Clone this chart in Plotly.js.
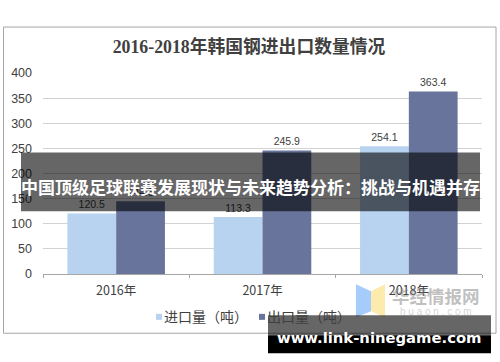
<!DOCTYPE html>
<html><head><meta charset="utf-8">
<script src="https://cdn.plot.ly/plotly-3.0.1.min.js"></script>
<style>html,body{margin:0;padding:0;background:#fff}</style></head>
<body><div id="c" style="width:500px;height:362px"></div>
<script>
var categories=['2016年','2017年','2018年'];
var importValues=[120.5,113.3,254.1];
var exportValues=[144.6,245.9,363.4];
var seriesNames=['进口量（吨）','出口量（吨）'];
var yTicks=[0,50,100,150,200,250,300,350,400];
var W=500,H=362,L=43,R=18,T=72.5,B=88.3;
function px(x){return (x-L)/(W-L-R);}
function py(y){return 1-(y-T)/(H-T-B);}
var cjk='"Noto Sans CJK SC","Liberation Sans",sans-serif';
function mk(name,vals,color){return {type:'bar',name:name,x:categories,y:vals,marker:{color:color},
 text:vals.map(function(v){return v.toFixed(1);}),textposition:'outside',cliponaxis:false,
 textangle:0,textfont:{family:'"Liberation Sans",sans-serif',size:10.5,color:'#404040'},hoverinfo:'x+y'};}
var data=[mk(seriesNames[0],importValues,'#b7d3f0'),mk(seriesNames[1],exportValues,'#68749b')];
function rect(x0,y0,x1,y1,fill,line,layer){return {type:'rect',xref:'paper',yref:'paper',x0:px(x0),x1:px(x1),y0:py(y0),y1:py(y1),
 fillcolor:fill,line:line||{width:0},layer:layer||'above'};}
function poly(pts,fill){return {type:'path',xref:'paper',yref:'paper',
 path:'M'+pts.map(function(p){return px(p[0])+','+py(p[1]);}).join('L')+'Z',fillcolor:fill,line:{width:0},layer:'above'};}
function note(text,x,y,size,color,bold,family){return {text:bold?'<b>'+text+'</b>':text,xref:'paper',yref:'paper',x:px(x),y:py(y),
 xanchor:'center',yanchor:'middle',showarrow:false,font:{family:family||cjk,size:size,color:color}};}
var layout={width:W,height:H,margin:{l:L,r:R,t:T,b:B,pad:0},paper_bgcolor:'#fff',plot_bgcolor:'#fff',
 barmode:'group',bargap:1/3,bargroupgap:0,showlegend:true,
 legend:{orientation:'h',x:px(124),y:py(301),xanchor:'left',yanchor:'top',entrywidth:58,entrywidthmode:'pixels',
  font:{family:cjk,size:14,color:'#404040'},bgcolor:'rgba(0,0,0,0)',traceorder:'normal'},
 xaxis:{type:'category',tickson:'boundaries',ticks:'outside',ticklen:3,tickcolor:'#a6a6a6',linecolor:'#a6a6a6',linewidth:1,showline:true,
  showgrid:false,ticklabelstandoff:5,tickfont:{family:cjk,size:12.5,color:'#404040'},fixedrange:true},
 yaxis:{range:[0,400],tickvals:yTicks,ticktext:yTicks.map(String),gridcolor:'#d2d2d2',gridwidth:1.4,showline:false,zeroline:false,
  ticklabelstandoff:10,tickfont:{family:'"Liberation Sans",sans-serif',size:12.5,color:'#404040'},ticks:'',fixedrange:true},
 title:{text:'<b>2016-2018年韩国钢进出口数量情况</b>',x:249/500,xanchor:'center',y:1-47/362,yanchor:'middle',
  font:{family:'"Liberation Serif","Noto Sans CJK SC",serif',size:17.8,color:'#404040'}},
 shapes:[
  rect(3.5,26.5,496,333,'rgba(0,0,0,0)',{color:'#a6a6a6',width:1},'below'),
  poly([[356,284],[371,291],[371,311],[356,317]],'rgba(150,195,250,.85)'),
  poly([[385,284],[371,291],[371,311],[385,317]],'rgba(253,232,160,.85)'),
  rect(21,152,480,211,'rgba(0,0,0,.6)'),
  rect(268,315,491,335,'rgba(0,0,0,.6)'),
  rect(268,335,491,353,'#000')
 ],
 annotations:[
  note('华经情报网',436,295,17.5,'rgba(130,130,130,.5)',true),
  note('h u a o n . c o m',436,311,10,'rgba(170,170,170,.5)',false,'"Liberation Sans",sans-serif'),
  note('中国顶级足球联赛发展现状与未来趋势分析：挑战与机遇并存',250.5,186,17,'#fff',true),
  note('www.link-ninegame.com',379,337,14.8,'#fff',true,'"DejaVu Sans",sans-serif')
 ]};
Plotly.newPlot('c',data,layout,{displayModeBar:false,responsive:false}).then(function(){
 document.querySelectorAll('.legend .legendbar path, .legend .legendpoints path').forEach(function(p){
  p.setAttribute('d','M3,3H-3V-3H3Z');p.setAttribute('transform','translate(35,0)');
 });
 document.querySelectorAll('.legend .scrollbox').forEach(function(s){s.removeAttribute('clip-path');});
 document.querySelectorAll('.legend').forEach(function(s){s.style.overflow='visible';});
});
</script></body></html>
